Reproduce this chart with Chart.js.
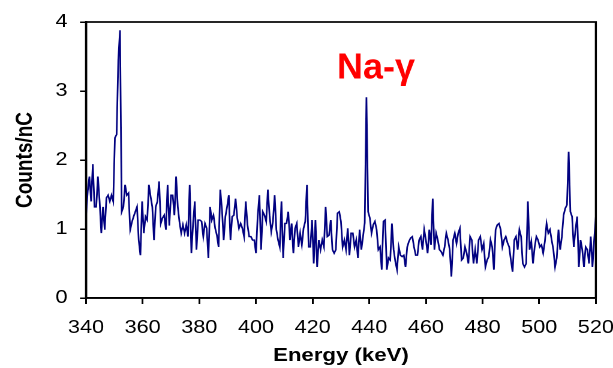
<!DOCTYPE html>
<html>
<head>
<meta charset="utf-8">
<script src="https://cdn.jsdelivr.net/npm/chart.js@4.4.1/dist/chart.umd.min.js"></script>
<style>
  html, body { margin: 0; padding: 0; background: #fff; }
</style>
</head>
<body>
<!-- the chart is laid out narrow and widened by the page -->
<canvas id="spectrum" width="511" height="368" style="width:613px;height:368px;display:block"></canvas>
<script>
// channel calibration (keV)
const startEnergy = 340;
const channelWidth = 0.6;

// counts per nC, one value per channel
const countsPerNC = [
  1.19, 1.55, 1.76, 1.40, 1.94, 1.32, 1.32, 1.76, 1.40, 0.94,
  1.32, 0.99, 1.45, 1.49, 1.40, 1.49, 1.40, 2.32, 2.37, 3.45,
  3.88, 1.25, 1.32, 1.64, 1.49, 1.52, 0.99, 1.10, 1.18, 1.25,
  1.32, 0.84, 0.62, 1.40, 0.94, 1.18, 1.13, 1.64, 1.47, 1.32,
  0.84, 1.32, 1.40, 1.69, 1.08, 1.16, 1.20, 0.99, 1.64, 1.05,
  1.49, 1.49, 1.20, 1.76, 1.32, 1.10, 0.94, 1.06, 0.94, 1.06,
  0.89, 1.64, 0.65, 1.08, 1.40, 0.70, 1.13, 1.13, 1.11, 0.89,
  1.08, 1.01, 0.58, 1.32, 1.13, 1.20, 1.01, 0.91, 0.74, 1.57,
  1.28, 0.84, 1.18, 1.32, 1.49, 0.84, 1.18, 1.20, 1.44, 1.16,
  1.01, 1.08, 1.01, 0.89, 1.40, 1.06, 0.89, 0.89, 0.84, 0.84,
  0.65, 1.18, 1.49, 0.70, 1.25, 1.20, 1.11, 1.57, 1.20, 0.96,
  1.11, 1.49, 0.99, 0.84, 0.74, 1.40, 0.58, 1.08, 1.08, 1.25,
  0.84, 1.08, 0.65, 1.01, 1.08, 0.74, 0.94, 0.77, 1.01, 1.11,
  1.64, 0.74, 0.74, 1.13, 0.50, 1.13, 0.45, 0.84, 0.70, 0.84,
  0.74, 1.32, 0.89, 0.91, 1.13, 0.70, 0.65, 0.70, 1.23, 1.25,
  1.11, 0.74, 0.84, 0.70, 1.01, 0.62, 0.94, 0.94, 0.74, 0.84,
  0.58, 0.99, 0.70, 0.89, 1.09, 2.91, 1.25, 1.16, 0.94, 1.06,
  1.11, 0.99, 0.70, 0.74, 0.41, 1.11, 1.13, 0.41, 0.58, 0.55,
  1.08, 0.70, 0.53, 0.41, 0.74, 0.62, 0.60, 0.62, 0.45, 0.74,
  0.82, 0.87, 0.89, 0.74, 0.62, 0.62, 0.84, 0.89, 0.70, 0.99,
  0.84, 0.65, 0.99, 0.77, 1.44, 0.70, 0.94, 0.84, 0.70, 0.67,
  0.62, 0.74, 0.94, 0.84, 0.70, 0.31, 0.84, 0.94, 0.79, 0.94,
  1.01, 0.55, 0.58, 0.74, 0.65, 0.50, 0.89, 0.84, 0.50, 0.70,
  0.50, 0.84, 0.89, 0.70, 0.79, 0.45, 0.55, 0.60, 0.84, 0.74,
  0.41, 0.99, 1.06, 1.08, 0.99, 0.74, 0.84, 0.89, 0.80, 0.74,
  0.55, 0.38, 0.84, 0.89, 0.70, 0.99, 0.89, 0.50, 0.45, 0.50,
  1.40, 0.70, 0.82, 0.50, 0.74, 0.89, 0.84, 0.74, 0.77, 0.65,
  0.82, 1.08, 0.94, 0.99, 0.84, 0.70, 0.45, 0.58, 0.99, 0.70,
  0.89, 1.20, 1.30, 1.35, 2.12, 1.25, 1.18, 0.74, 0.99, 1.18,
  0.45, 0.84, 0.70, 0.45, 0.74, 0.70, 0.50, 0.89, 0.45, 0.84,
  1.18
];

const energyTicks = [340, 360, 380, 400, 420, 440, 460, 480, 500, 520];
const countTicks = [0, 1, 2, 3, 4];

// peak label, placed in data units (left end, baseline)
const peakLabel = { text: 'Na-\u03b3', energy: 428.6, counts: 3.18 };

const stretch = 613 / 511;
const fontFamily = '"Liberation Sans", Arial, Helvetica, sans-serif';

const points = countsPerNC.map((c, i) => ({ x: startEnergy + i * channelWidth, y: c }));

// box around the plot and the red peak label
const framePlugin = {
  id: 'frame',
  afterDatasetsDraw(chart) {
    const { ctx, chartArea: a, scales } = chart;
    ctx.save();
    ctx.strokeStyle = '#000';
    ctx.lineWidth = 1.7;
    ctx.strokeRect(a.left, a.top, a.right - a.left, a.bottom - a.top);

    const px = scales.x.getPixelForValue(peakLabel.energy);
    const py = scales.y.getPixelForValue(peakLabel.counts);
    ctx.translate(px, py);
    ctx.scale(1 / stretch, 1); // keep the label at its natural width
    ctx.fillStyle = '#ff0000';
    ctx.font = 'bold 36px ' + fontFamily;
    ctx.textAlign = 'left';
    ctx.textBaseline = 'alphabetic';
    ctx.fillText(peakLabel.text, 0, 0);
    ctx.restore();
  }
};

new Chart(document.getElementById('spectrum'), {
  type: 'line',
  data: {
    datasets: [{
      data: points,
      borderColor: '#000080',
      borderWidth: 1.4,
      pointRadius: 0,
      tension: 0,
      fill: false
    }]
  },
  options: {
    responsive: false,
    devicePixelRatio: 2,
    animation: false,
    layout: { padding: { left: 0, top: 22, right: 14.3, bottom: 0 } },
    plugins: { legend: { display: false }, tooltip: { enabled: false } },
    scales: {
      x: {
        type: 'linear',
        min: 340,
        max: 520,
        afterBuildTicks: s => { s.ticks = energyTicks.map(v => ({ value: v })); },
        afterFit: s => { s.height = 70; s.paddingLeft = 0; s.paddingRight = 0; },
        grid: { drawOnChartArea: false, tickLength: 6, color: '#000', lineWidth: 1.5 },
        border: { display: true, color: '#000', width: 1.7 },
        ticks: {
          autoSkip: false, maxRotation: 0, padding: 13, color: '#000',
          font: { family: fontFamily, size: 18 }
        },
        title: {
          display: true, text: 'Energy (keV)', color: '#000',
          font: { family: fontFamily, size: 18.5, weight: 'bold' },
          padding: { top: 0, bottom: 1 }
        }
      },
      y: {
        type: 'linear',
        min: 0,
        max: 4,
        afterBuildTicks: s => { s.ticks = countTicks.map(v => ({ value: v })); },
        afterFit: s => { s.width = 71.7; s.paddingTop = 0; s.paddingBottom = 0; },
        grid: { drawOnChartArea: false, tickLength: 5, color: '#000', lineWidth: 1.5 },
        border: { display: true, color: '#000', width: 1.7 },
        ticks: {
          padding: 10.5, color: '#000',
          font: { family: fontFamily, size: 18 }
        },
        title: {
          display: true, text: 'Counts/nC', color: '#000',
          font: { family: fontFamily, size: 19, weight: 'bold' },
          padding: { top: 10, bottom: 0 }
        }
      }
    }
  },
  plugins: [framePlugin]
});
</script>
</body>
</html>
